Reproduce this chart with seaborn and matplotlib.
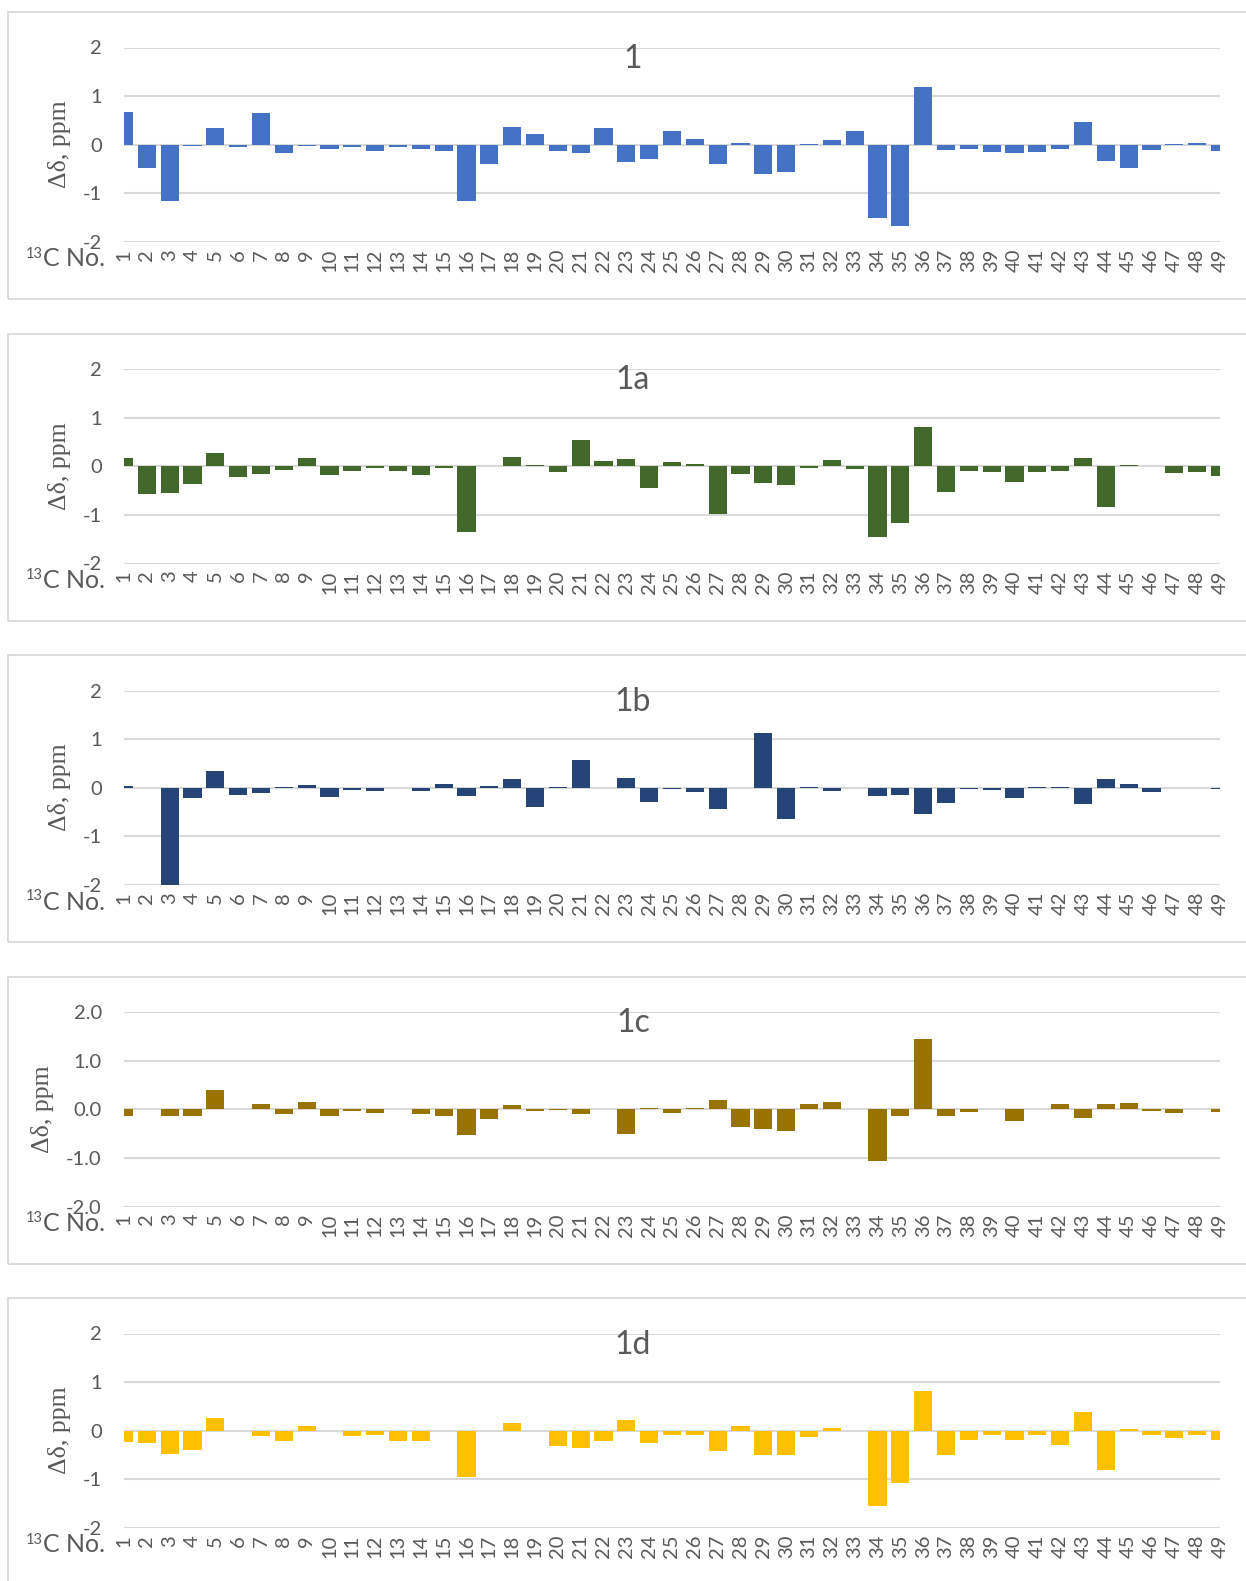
import matplotlib
matplotlib.use("Agg")
import matplotlib.pyplot as plt
import pandas as pd
import seaborn as sns
from matplotlib.patches import Rectangle

# 13C positions 1..49
carbons = [str(i) for i in range(1, 50)]

# chemical-shift differences (ppm) per carbon
shift_1 = [0.68, -0.48, -1.16, -0.02, 0.34, -0.05, 0.66, -0.16, -0.03, -0.09,
           -0.04, -0.13, -0.04, -0.08, -0.13, -1.15, -0.39, 0.37, 0.23, -0.13,
           -0.17, 0.35, -0.36, -0.30, 0.29, 0.11, -0.40, 0.03, -0.60, -0.57,
           0.02, 0.10, 0.29, -1.51, -1.68, 1.19, -0.10, -0.08, -0.14, -0.17,
           -0.14, -0.09, 0.47, -0.34, -0.47, -0.10, 0.02, 0.03, -0.12]
shift_1a = [0.16, -0.57, -0.56, -0.36, 0.27, -0.23, -0.15, -0.07, 0.16, -0.17,
            -0.09, -0.03, -0.09, -0.17, -0.03, -1.35, 0.00, 0.18, 0.03, -0.12,
            0.55, 0.10, 0.14, -0.45, 0.08, 0.05, -0.99, -0.16, -0.34, -0.38,
            -0.03, 0.13, -0.06, -1.46, -1.16, 0.81, -0.53, -0.10, -0.12, -0.32,
            -0.12, -0.10, 0.16, -0.84, 0.03, 0.01, -0.14, -0.12, -0.20]
shift_1b = [0.03, 0.00, -2.05, -0.21, 0.35, -0.15, -0.10, 0.02, 0.05, -0.18,
            -0.04, -0.07, 0.00, -0.07, 0.08, -0.16, 0.03, 0.19, -0.39, 0.01,
            0.57, 0.00, 0.21, -0.29, -0.03, -0.08, -0.43, 0.00, 1.12, -0.64,
            0.01, -0.06, 0.00, -0.16, -0.14, -0.55, -0.32, -0.03, -0.05, -0.21,
            0.01, 0.01, -0.34, 0.17, 0.07, -0.08, 0.00, 0.00, -0.03]
shift_1c = [-0.14, 0.00, -0.13, -0.13, 0.40, 0.00, 0.10, -0.10, 0.14, -0.13,
            -0.04, -0.08, 0.00, -0.10, -0.13, -0.53, -0.21, 0.09, -0.04, -0.01,
            -0.10, 0.00, -0.50, 0.03, -0.07, 0.03, 0.20, -0.36, -0.40, -0.45,
            0.10, 0.14, 0.00, -1.07, -0.14, 1.45, -0.14, -0.06, 0.00, -0.24,
            0.01, 0.10, -0.18, 0.10, 0.12, -0.04, -0.07, 0.00, -0.05]
shift_1d = [-0.24, -0.26, -0.47, -0.40, 0.27, 0.00, -0.11, -0.21, 0.10, 0.00,
            -0.10, -0.08, -0.21, -0.21, 0.00, -0.96, 0.00, 0.15, 0.00, -0.32,
            -0.36, -0.21, 0.23, -0.25, -0.09, -0.09, -0.42, 0.09, -0.49, -0.50,
            -0.13, 0.06, 0.00, -1.54, -1.08, 0.82, -0.50, -0.20, -0.09, -0.20,
            -0.09, -0.29, 0.39, -0.80, 0.04, -0.09, -0.15, -0.09, -0.20]

compounds = ["1", "1a", "1b", "1c", "1d"]
series = [shift_1, shift_1a, shift_1b, shift_1c, shift_1d]
bar_colors = ["#4472C4", "#43682B", "#264478", "#997300", "#FFC000"]
tick_values = [-2, -1, 0, 1, 2]
tick_labels_int = ["-2", "-1", "0", "1", "2"]
tick_labels_dec = ["-2.0", "-1.0", "0.0", "1.0", "2.0"]
tick_label_sets = [tick_labels_int, tick_labels_int, tick_labels_int,
                   tick_labels_dec, tick_labels_int]

sns.set_style("white")
plt.rcParams["font.family"] = ["Lato", "DejaVu Sans"]
plt.rcParams["axes.unicode_minus"] = False

TEXT = "#595959"
GRID = "#D9D9D9"
W, H = 1246, 1581
fig = plt.figure(figsize=(W / 100, H / 100), dpi=100)

PITCH = 321.5
for i, (name, vals, color, ylabels) in enumerate(
        zip(compounds, series, bar_colors, tick_label_sets)):
    off = i * PITCH

    # light frame around each panel (open to the right)
    fig.patches.append(Rectangle((8 / W, 1 - (299 + off) / H), 1300 / W, 287 / H,
                                 transform=fig.transFigure, fill=False,
                                 edgecolor=GRID, lw=1.3))

    top = 47.5 + off
    ax = fig.add_axes([124 / W, 1 - (top + 194.5) / H, 1096 / W, 194.5 / H])
    df = pd.DataFrame({"carbon": carbons, "shift": vals})
    sns.barplot(data=df, x="carbon", y="shift", color=color, saturation=1,
                width=0.8, ax=ax, linewidth=0)

    ax.set_xlim(0, len(carbons) - 1)
    ax.set_ylim(-2, 2)
    ax.set_yticks(tick_values)
    ax.set_yticklabels(ylabels)
    ax.set_axisbelow(True)
    ax.yaxis.grid(True, color=GRID, lw=1.5)
    ax.xaxis.grid(False)
    for s in ax.spines.values():
        s.set_visible(False)
    ax.set_xlabel("")
    ax.set_ylabel("")
    ax.tick_params(axis="y", length=0, pad=16, labelsize=14.5, labelcolor=TEXT)
    ax.tick_params(axis="x", length=0, pad=5, labelsize=14.5, labelcolor=TEXT,
                   labelrotation=90)

    # compound label
    fig.text(633 / W, 1 - (67.5 + off) / H, name, ha="center", va="baseline",
             size=23, color=TEXT)

    # y-axis title
    ylab_x = 42.5 if ylabels is tick_labels_dec else 59.5
    fig.text(ylab_x / W, 1 - (top + 97) / H, "Δδ, ppm", rotation=90,
             ha="center", va="center", family="Liberation Serif", size=18.5,
             color=TEXT)

    # x-axis caption
    fig.text(43.5 / W, 1 - (266.5 + off) / H, "C No.", ha="left",
             va="baseline", size=18, color=TEXT)
    fig.text(43 / W, 1 - (257.5 + off) / H, "13", ha="right",
             va="baseline", size=10.5, color=TEXT)

fig.savefig("out.png", dpi=100)
